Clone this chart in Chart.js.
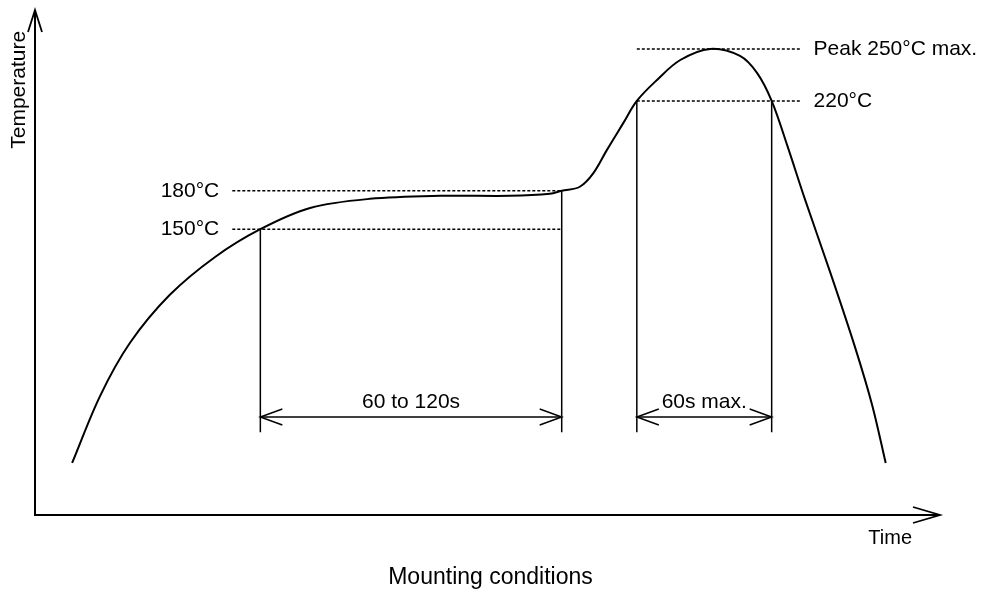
<!DOCTYPE html>
<html>
<head>
<meta charset="utf-8">
<script src="https://cdn.jsdelivr.net/npm/chart.js@4/dist/chart.umd.min.js"></script>
<style>
  html, body { margin: 0; padding: 0; background: #fff; }
</style>
</head>
<body>
<canvas id="reflowChart" width="981" height="593"></canvas>
<script>
// schematic reflow profile, arbitrary units (0-100 on both axes)
var profileTime = [4.1, 7.2, 10.5, 14.9, 19.9, 24.9, 30.4, 37.0, 44.8, 52.5, 56.9, 58.2,
                   60.2, 61.7, 63.2, 65.0, 66.5, 68.7, 71.3, 74.6, 77.9, 79.8, 81.4,
                   83.1, 85.1, 87.9, 90.6, 92.5, 94.0];
var profileTemp = [10.3, 23.6, 34.1, 43.6, 51.1, 56.6, 60.8, 62.6, 63.2, 63.2, 63.6, 64.2,
                   65.0, 67.7, 72.3, 77.6, 82.0, 86.1, 90.1, 92.3, 90.9, 87.5, 82.0,
                   73.3, 62.4, 47.9, 33.3, 21.8, 10.3];

// dotted temperature levels
var levelLabels = ['150°C', '180°C', '220°C', 'Peak 250°C max.'];
var levelTemp   = [56.6, 64.2, 82.0, 92.3];
var levelFrom   = [21.8, 21.8, 66.5, 66.5];
var levelTo     = [58.2, 58.2, 84.7, 84.7];

// time windows (dimension arrows)
var windowLabels = ['60 to 120s', '60s max.'];
var windowFrom   = [24.9, 66.5];
var windowTo     = [58.2, 81.4];
var windowTopFrom = [56.6, 82.0];
var windowTopTo   = [64.2, 82.0];
var windowArrowAt = 19.4;
var windowBottom  = 16.4;

var FONT = '"Liberation Sans", Arial, sans-serif';

function pts(xs, ys) {
  return xs.map(function (x, i) { return {x: x, y: ys[i]}; });
}

var datasets = [{
  data: pts(profileTime, profileTemp),
  borderColor: '#000',
  borderWidth: 2,
  pointRadius: 0,
  tension: 0.35
}];

for (var i = 0; i < levelLabels.length; i++) {
  datasets.push({
    data: [{x: levelFrom[i], y: levelTemp[i]}, {x: levelTo[i], y: levelTemp[i]}],
    borderColor: '#000',
    borderWidth: 1.5,
    borderDash: [3, 2],
    pointRadius: 0
  });
}

for (var j = 0; j < windowLabels.length; j++) {
  datasets.push({
    data: [{x: windowFrom[j], y: windowTopFrom[j]}, {x: windowFrom[j], y: windowBottom}],
    borderColor: '#000', borderWidth: 1.5, pointRadius: 0
  });
  datasets.push({
    data: [{x: windowTo[j], y: windowTopTo[j]}, {x: windowTo[j], y: windowBottom}],
    borderColor: '#000', borderWidth: 1.5, pointRadius: 0
  });
  datasets.push({
    data: [{x: windowFrom[j], y: windowArrowAt}, {x: windowTo[j], y: windowArrowAt}],
    borderColor: '#000', borderWidth: 1.5, pointRadius: 0
  });
}

function openHead(ctx, tx, ty, dx, dy, len, half) {
  // open arrowhead pointing in direction (dx,dy)
  var px = -dy, py = dx;
  ctx.beginPath();
  ctx.moveTo(tx - dx * len + px * half, ty - dy * len + py * half);
  ctx.lineTo(tx, ty);
  ctx.lineTo(tx - dx * len - px * half, ty - dy * len - py * half);
  ctx.stroke();
}

var sketchPlugin = {
  id: 'sketch',
  afterDatasetsDraw: function (chart) {
    var ctx = chart.ctx;
    var ca = chart.chartArea;
    var xs = chart.scales.x, ys = chart.scales.y;
    ctx.save();
    ctx.strokeStyle = '#000';
    ctx.fillStyle = '#000';
    ctx.lineCap = 'butt';

    // axes
    ctx.lineWidth = 2;
    ctx.beginPath();
    ctx.moveTo(ca.left, ca.top);
    ctx.lineTo(ca.left, ca.bottom);
    ctx.lineTo(ca.right, ca.bottom);
    ctx.stroke();
    ctx.lineWidth = 1.8;
    openHead(ctx, ca.left, ca.top, 0, -1, 22, 7);
    openHead(ctx, ca.right, ca.bottom, 1, 0, 27, 8);

    // window arrowheads + labels
    ctx.lineWidth = 1.5;
    ctx.font = '21px ' + FONT;
    ctx.textAlign = 'center';
    ctx.textBaseline = 'middle';
    for (var j = 0; j < windowLabels.length; j++) {
      var x0 = xs.getPixelForValue(windowFrom[j]);
      var x1 = xs.getPixelForValue(windowTo[j]);
      var y = ys.getPixelForValue(windowArrowAt);
      openHead(ctx, x0, y, -1, 0, 22, 8);
      openHead(ctx, x1, y, 1, 0, 22, 8);
      ctx.fillText(windowLabels[j], (x0 + x1) / 2, y - 15);
    }

    // level labels
    for (var i = 0; i < levelLabels.length; i++) {
      var ly = ys.getPixelForValue(levelTemp[i]);
      if (levelFrom[i] < 40) {
        ctx.textAlign = 'right';
        ctx.fillText(levelLabels[i], xs.getPixelForValue(levelFrom[i]) - 13, ly);
      } else {
        ctx.textAlign = 'left';
        ctx.fillText(levelLabels[i], xs.getPixelForValue(levelTo[i]) + 12, ly);
      }
    }

    // axis titles
    ctx.textAlign = 'center';
    ctx.font = '20px ' + FONT;
    ctx.fillText('Time', xs.getPixelForValue(94.5), ca.bottom + 23);
    ctx.save();
    ctx.font = '21px ' + FONT;
    ctx.translate(ca.left - 16, ys.getPixelForValue(84.2));
    ctx.rotate(-Math.PI / 2);
    ctx.fillText('Temperature', 0, 0);
    ctx.restore();

    ctx.font = '23px ' + FONT;
    ctx.fillText('Mounting conditions', chart.width / 2, 578);
    ctx.restore();
  }
};

new Chart(document.getElementById('reflowChart'), {
  type: 'scatter',
  data: {datasets: datasets},
  options: {
    responsive: false,
    animation: false,
    showLine: true,
    layout: {padding: {left: 35, right: 41, top: 10, bottom: 78}},
    plugins: {legend: {display: false}, tooltip: {enabled: false}},
    scales: {
      x: {type: 'linear', min: 0, max: 100, display: false},
      y: {type: 'linear', min: 0, max: 100, display: false}
    }
  },
  plugins: [sketchPlugin]
});
</script>
</body>
</html>
